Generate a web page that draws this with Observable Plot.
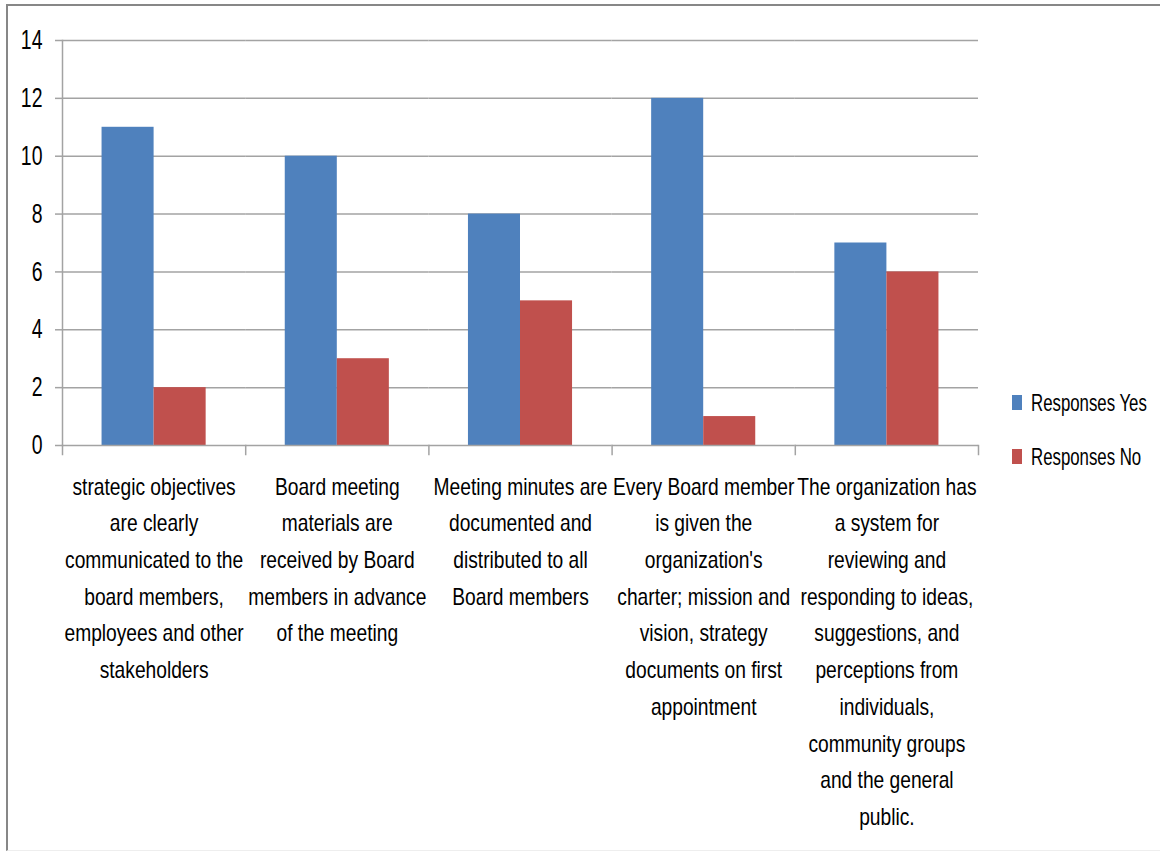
<!DOCTYPE html>
<html>
<head>
<meta charset="utf-8">
<script src="https://cdn.jsdelivr.net/npm/d3@7"></script>
<script src="https://cdn.jsdelivr.net/npm/@observablehq/plot@0.6"></script>
<style>
  html, body { margin: 0; padding: 0; background: #fff; }
  body { width: 1160px; height: 852px; position: relative; overflow: hidden; font-family: "Liberation Sans", Arial, sans-serif; }
  #frame { position: absolute; left: 6px; top: 4px; width: 1160px; height: 847px; border-top: 2px solid #878787; border-left: 2px solid #878787; border-bottom: 1px solid #eeeeee; box-sizing: border-box; }
  #chart { position: absolute; left: 0; top: 0; }
  .lg-text { position: absolute; left: 1031px; font-size: 24px; line-height: 24px; color: #000; white-space: nowrap; transform: scaleX(0.7); transform-origin: 0 0; }
  .lg-sw { position: absolute; left: 1012px; width: 10px; height: 15px; }
</style>
</head>
<body>
<div id="frame"></div>
<div id="chart"></div>
<div id="legend"></div>
<script>
const categories = [
  "strategic objectives\nare clearly\ncommunicated to the\nboard members,\nemployees and other\nstakeholders",
  "Board meeting\nmaterials are\nreceived by Board\nmembers in advance\nof the meeting",
  "Meeting minutes are\ndocumented and\ndistributed to all\nBoard members",
  "Every Board member\nis given the\norganization's\ncharter; mission and\nvision, strategy\ndocuments on first\nappointment",
  "The organization has\na system for\nreviewing and\nresponding to ideas,\nsuggestions, and\nperceptions from\nindividuals,\ncommunity groups\nand the general\npublic."
];
const seriesNames = ["Responses Yes", "Responses No"];
const yesValues = [11, 10, 8, 12, 7];
const noValues = [2, 3, 5, 1, 6];
const yTicks = [0, 2, 4, 6, 8, 10, 12, 14];
const seriesColors = ["#4F81BD", "#C0504D"];

const data = categories.flatMap((c, i) => [
  {category: c, series: seriesNames[0], value: yesValues[i]},
  {category: c, series: seriesNames[1], value: noValues[i]}
]);

const W = 1160, H = 852;
const mL = 62, mR = 182, mT = 40, mB = 407;
const innerH = H - mT - mB;
const grid = "#a3a3a3";

const chart = Plot.plot({
  width: W,
  height: H,
  marginLeft: mL,
  marginRight: mR,
  marginTop: mT,
  marginBottom: mB,
  style: {fontFamily: '"Liberation Sans", Arial, sans-serif', fontSize: "24px", color: "#000", background: "transparent"},
  fx: {domain: categories, padding: 0, round: false, label: null},
  x: {domain: seriesNames, paddingInner: 0, paddingOuter: 0.76, round: false, axis: null},
  y: {domain: [0, 14], label: null},
  color: {domain: seriesNames, range: seriesColors},
  marks: [
    Plot.ruleY(yTicks.filter(t => t > 0), {stroke: grid, strokeWidth: 1.5}),
    Plot.barY(data, {fx: "category", x: "series", y: "value", fill: "series"}),
    Plot.ruleY([0], {stroke: grid, strokeWidth: 1.5}),
    Plot.frame({anchor: "left", facetAnchor: "left", stroke: grid, strokeWidth: 1.5}),
    Plot.frame({anchor: "left", insetTop: innerH, insetBottom: -9, stroke: grid, strokeWidth: 1.5}),
    Plot.frame({anchor: "right", facetAnchor: "right", insetTop: innerH, insetBottom: -9, stroke: grid, strokeWidth: 1.5}),
    Plot.axisY({ticks: yTicks, tickSize: 7, tickPadding: 13, stroke: grid, strokeWidth: 1.5, fontSize: 27, fill: "#000", label: null}),
    Plot.axisFx({anchor: "bottom", tickSize: 0, tickPadding: 23, fontSize: 24, lineHeight: 1.53, fill: "#000", label: null, lineWidth: 100})
  ]
});
document.getElementById("chart").appendChild(chart);

// Narrow the glyphs horizontally (reference font is a condensed face)
function squeeze(selector, s, mode) {
  chart.querySelectorAll(selector).forEach(t => {
    const b = t.getBBox();
    const ax = mode === "end" ? b.x + b.width : b.x + b.width / 2;
    const tr = t.getAttribute("transform") || "";
    t.setAttribute("transform", `${tr} translate(${ax},0) scale(${s},1) translate(${-ax},0)`);
  });
}
squeeze('g[aria-label="y-axis tick label"] text', 0.72, "end");
squeeze('g[aria-label="fx-axis tick label"] text', 0.8, "middle");

const legend = document.getElementById("legend");
[391, 445].forEach((top, i) => {
  const sw = document.createElement("div");
  sw.className = "lg-sw";
  sw.style.top = (top + 4) + "px";
  sw.style.background = seriesColors[i];
  const tx = document.createElement("div");
  tx.className = "lg-text";
  tx.style.top = top + "px";
  tx.textContent = seriesNames[i];
  legend.appendChild(sw);
  legend.appendChild(tx);
});
</script>
</body>
</html>
